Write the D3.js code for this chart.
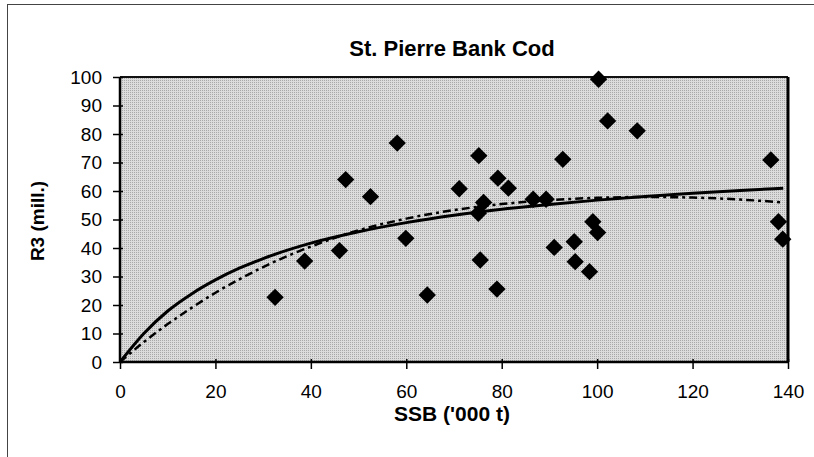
<!DOCTYPE html>
<html><head><meta charset="utf-8">
<script src="https://cdn.jsdelivr.net/npm/d3@7"></script>
<style>body{margin:0;background:#fff}svg{display:block;font-family:Arial,"Liberation Sans",sans-serif}</style>
</head><body>
<svg id="c" width="814" height="457"></svg>
<script>
// Observed stock–recruit points: SSB ('000 t), R3 (mill.)
const ssb = [32.5,38.7,46.0,47.3,52.5,58.1,59.9,64.4,71.1,75.2,75.1,76.2,75.5,79.2,79.0,81.4,86.6,89.3,91.0,92.8,95.2,95.4,98.4,99.1,100.1,100.3,102.2,108.4,136.4,138.0,138.9];
const r3  = [22.7,35.4,39.1,64.0,58.0,76.8,43.4,23.5,60.8,72.4,52.2,56.0,35.8,64.5,25.6,61.0,57.1,57.1,40.2,71.1,42.2,35.2,31.7,49.2,45.4,99.2,84.6,81.1,70.9,49.2,43.1];
// Fitted curve readings (solid and dashed)
const curveX   = [0,5,10,15,20,25,30,40,50,60,70,80,90,100,110,120,130,139];
const solidY   = [0,10,17.9,23.9,28.8,32.9,36.3,41.7,45.7,48.9,51.5,53.6,55.3,56.8,58.1,59.2,60.2,61.0];
const dashedY  = [0,7.0,13.3,19.0,24.3,29.0,33.3,40.5,46.2,50.3,53.3,55.4,56.8,57.6,57.9,57.7,57.0,56.0];
const xTicks = [0,20,40,60,80,100,120,140];
const yTicks = [0,10,20,30,40,50,60,70,80,90,100];

const svg = d3.select("#c");
const L=120,R=788,T=77,B=362;
const x = d3.scaleLinear().domain([0,140]).range([L,R]);
const y = d3.scaleLinear().domain([0,100]).range([B,T]);

// outer frame
svg.append("rect").attr("x",7.5).attr("y",4.5).attr("width",830).attr("height",480)
  .attr("fill","none").attr("stroke","#444").attr("stroke-width",1);

// stippled plot background
const defs = svg.append("defs");
const pat = defs.append("pattern").attr("id","stip").attr("width",2).attr("height",2).attr("patternUnits","userSpaceOnUse");
pat.append("rect").attr("width",2).attr("height",2).attr("fill","#dcdcdc");
pat.append("rect").attr("width",1).attr("height",1).attr("fill","#a8a8a8");
svg.append("rect").attr("x",L).attr("y",T).attr("width",R-L).attr("height",B-T).attr("fill","url(#stip)");

// frame top/right
svg.append("line").attr("x1",L).attr("x2",R).attr("y1",T).attr("y2",T).attr("stroke","#111").attr("stroke-width",2);
svg.append("line").attr("x1",R).attr("x2",R).attr("y1",T).attr("y2",B).attr("stroke","#000").attr("stroke-width",3);

// axes
const yAxis = d3.axisLeft(y).tickValues(yTicks).tickSize(7).tickPadding(11);
const gy = svg.append("g").attr("transform",`translate(${L},0)`).call(yAxis);
gy.selectAll(".tick line").attr("x2",-7).attr("x1",3).attr("stroke","#000").attr("stroke-width",1.5);
gy.select(".domain").attr("stroke","#000").attr("stroke-width",2.5).attr("d",`M0,${T}V${B}`);
gy.selectAll("text").attr("font-size",19).attr("fill","#000");

const xAxis = d3.axisBottom(x).tickValues(xTicks).tickSize(7).tickPadding(16);
const gx = svg.append("g").attr("transform",`translate(0,${B})`).call(xAxis);
gx.selectAll(".tick line").attr("y1",-3).attr("y2",7).attr("stroke","#000").attr("stroke-width",1.5);
gx.select(".domain").attr("stroke","#000").attr("stroke-width",2.5).attr("d",`M${L},0H${R}`);
gx.selectAll("text").attr("font-size",19).attr("fill","#000");

// curves
const line = d3.line().x(d=>x(d[0])).y(d=>y(d[1])).curve(d3.curveMonotoneX);
svg.append("path").datum(curveX.map((v,i)=>[v,solidY[i]])).attr("d",line)
  .attr("fill","none").attr("stroke","#000").attr("stroke-width",3);
svg.append("path").datum(curveX.map((v,i)=>[v,dashedY[i]])).attr("d",line)
  .attr("fill","none").attr("stroke","#000").attr("stroke-width",2.5).attr("stroke-dasharray","8,4,3,4");

// points
const sym = d3.symbol().type(d3.symbolSquare).size(150);
svg.append("g").selectAll("path").data(ssb.map((v,i)=>[v,r3[i]])).join("path")
  .attr("d",sym).attr("fill","#000")
  .attr("transform",d=>`translate(${x(d[0])},${y(d[1])}) rotate(45)`);

// titles
svg.append("text").attr("x",452).attr("y",56).attr("text-anchor","middle")
  .attr("font-size",22).attr("font-weight","bold").text("St. Pierre Bank Cod");
svg.append("text").attr("x",452).attr("y",421).attr("text-anchor","middle")
  .attr("font-size",21).attr("font-weight","bold").text("SSB ('000 t)");
svg.append("text").attr("transform","translate(44,221) rotate(-90)").attr("text-anchor","middle")
  .attr("font-size",19).attr("font-weight","bold").text("R3 (mill.)");
</script>
</body></html>
